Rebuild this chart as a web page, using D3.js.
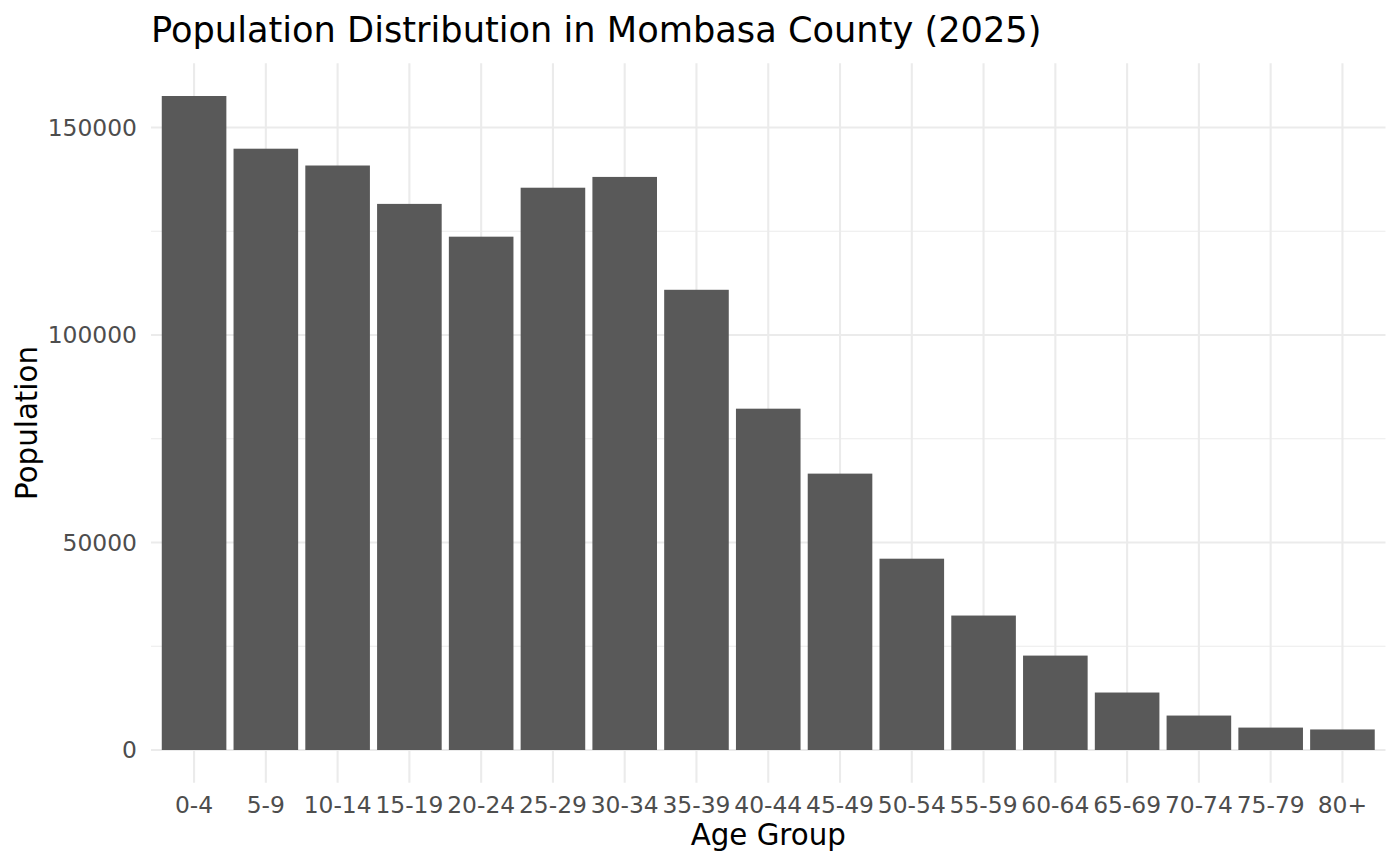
<!DOCTYPE html>
<html>
<head>
<meta charset="utf-8">
<script src="https://cdn.jsdelivr.net/npm/d3@7"></script>
<style>
  body { margin: 0; background: #fff; }
  svg { display: block; font-family: "DejaVu Sans", sans-serif; }
</style>
</head>
<body>
<svg id="chart" width="1400" height="866"></svg>
<script>
// age groups and population counts
var ageGroups = ['0-4', '5-9', '10-14', '15-19', '20-24', '25-29', '30-34', '35-39',
  '40-44', '45-49', '50-54', '55-59', '60-64', '65-69', '70-74', '75-79', '80+']
var population = [157600, 144900, 140850, 131600, 123700, 135500, 138100, 110900,
  82250, 66600, 46100, 32400, 22750, 13850, 8300, 5400, 4950]
var yTicks = [0, 50000, 100000, 150000]
var yMinorTicks = [25000, 75000, 125000]

var data = ageGroups.map(function (g, i) { return { group: g, value: population[i] } })

var panel = { left: 151, right: 1385.5, top: 63.3, bottom: 782.7 }
var svg = d3.select('#chart')

// discrete x scale with ggplot style 0.6 expansion on each side
var step = (panel.right - panel.left) / (ageGroups.length - 1 + 1.2)
var x = d3.scalePoint()
  .domain(ageGroups)
  .range([panel.left + 0.6 * step, panel.right - 0.6 * step])
var barWidth = step * 0.9

var maxVal = d3.max(population)
var y = d3.scaleLinear()
  .domain([-0.05 * maxVal, maxVal * 1.05])
  .range([panel.bottom, panel.top])

var grid = svg.append('g')

// minor horizontal grid
grid.selectAll('.minor')
  .data(yMinorTicks)
  .enter()
  .append('line')
  .attr('x1', panel.left).attr('x2', panel.right)
  .attr('y1', function (d) { return y(d) }).attr('y2', function (d) { return y(d) })
  .attr('stroke', '#EBEBEB').attr('stroke-width', 1.1)

// major horizontal grid
grid.selectAll('.major-y')
  .data(yTicks)
  .enter()
  .append('line')
  .attr('x1', panel.left).attr('x2', panel.right)
  .attr('y1', function (d) { return y(d) }).attr('y2', function (d) { return y(d) })
  .attr('stroke', '#EBEBEB').attr('stroke-width', 2.1)

// major vertical grid
grid.selectAll('.major-x')
  .data(ageGroups)
  .enter()
  .append('line')
  .attr('y1', panel.top).attr('y2', panel.bottom)
  .attr('x1', function (d) { return x(d) }).attr('x2', function (d) { return x(d) })
  .attr('stroke', '#EBEBEB').attr('stroke-width', 2.1)

// bars
svg.append('g').selectAll('rect')
  .data(data)
  .enter()
  .append('rect')
  .attr('x', function (d) { return x(d.group) - barWidth / 2 })
  .attr('y', function (d) { return y(d.value) })
  .attr('width', barWidth)
  .attr('height', function (d) { return y(0) - y(d.value) })
  .attr('fill', '#595959')

// y axis labels
svg.append('g').selectAll('text')
  .data(yTicks)
  .enter()
  .append('text')
  .attr('x', 137)
  .attr('y', function (d) { return y(d) })
  .attr('dy', '0.36em')
  .attr('text-anchor', 'end')
  .attr('font-size', 23.4)
  .attr('fill', '#4D4D4D')
  .text(function (d) { return d })

// x axis labels
svg.append('g').selectAll('text')
  .data(ageGroups)
  .enter()
  .append('text')
  .attr('x', function (d) { return x(d) })
  .attr('y', 812.5)
  .attr('text-anchor', 'middle')
  .attr('font-size', 23.4)
  .attr('fill', '#4D4D4D')
  .text(function (d) { return d })

// axis titles
svg.append('text')
  .attr('x', (panel.left + panel.right) / 2)
  .attr('y', 845)
  .attr('text-anchor', 'middle')
  .attr('font-size', 29.3)
  .attr('fill', '#000')
  .text('Age Group')

svg.append('text')
  .attr('transform', 'translate(37,' + (panel.top + panel.bottom) / 2 + ') rotate(-90)')
  .attr('text-anchor', 'middle')
  .attr('font-size', 29.3)
  .attr('fill', '#000')
  .text('Population')

// title
svg.append('text')
  .attr('x', 151)
  .attr('y', 41.5)
  .attr('font-size', 35.2)
  .attr('fill', '#000')
  .text('Population Distribution in Mombasa County (2025)')
</script>
</body>
</html>
